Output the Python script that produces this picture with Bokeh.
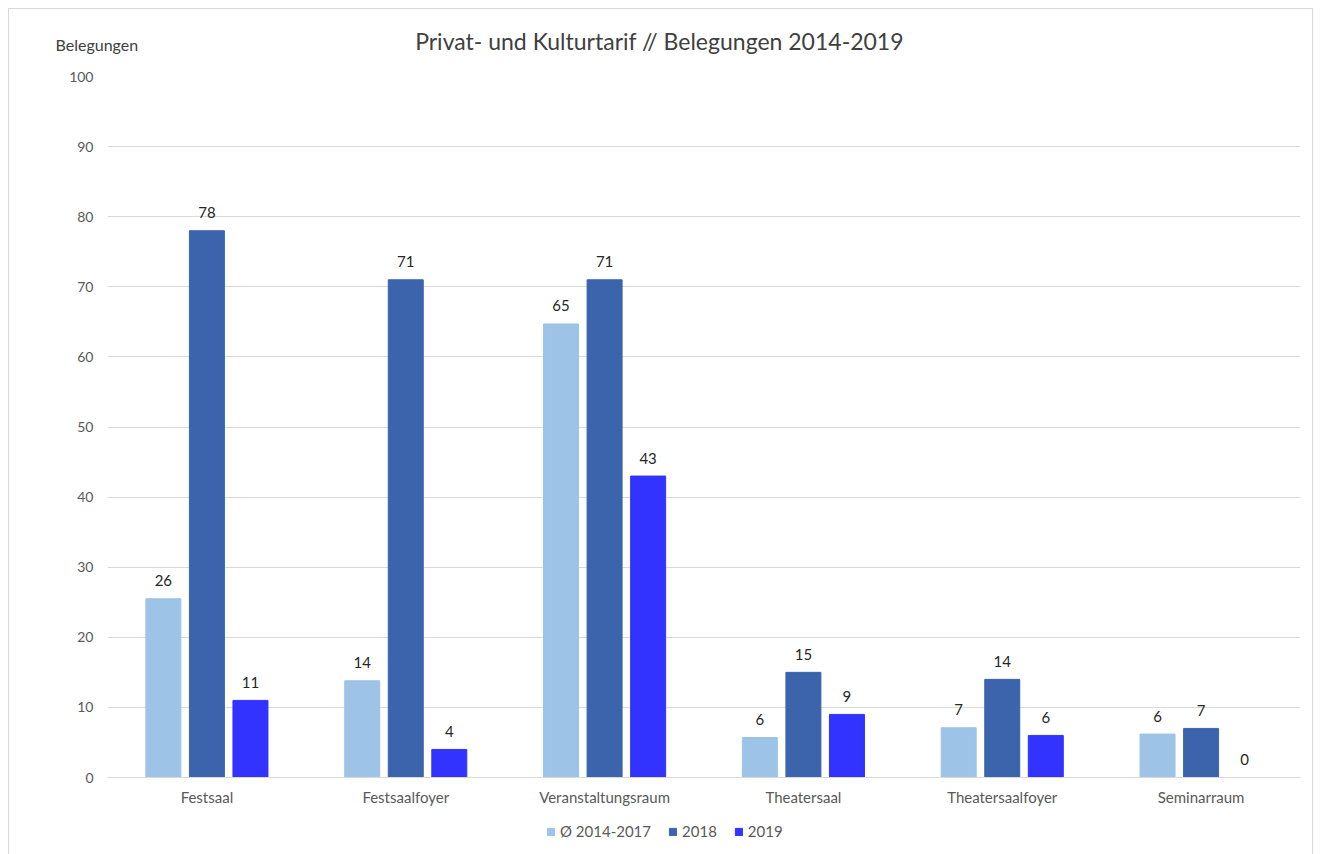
from bokeh.plotting import figure
from bokeh.layouts import column
from bokeh.models import (ColumnDataSource, FactorRange, Label, LabelSet, Legend, LegendItem,
                          Range1d, FixedTicker, Plot)
from bokeh.transform import dodge
from bokeh.core.properties import value
from bokeh.embed import file_html
from bokeh.resources import INLINE

categories = ["Festsaal", "Festsaalfoyer", "Veranstaltungsraum", "Theatersaal", "Theatersaalfoyer", "Seminarraum"]
avg_2014_2017 = [25.5, 13.8, 64.7, 5.7, 7.1, 6.2]
v_2018 = [78, 71, 71, 15, 14, 7]
v_2019 = [11, 4, 43, 9, 6, 0]
series_names = ["Ø 2014-2017", "2018", "2019"]
colors = ["#9DC3E6", "#3C64AD", "#3333FF"]
y_ticks = [0, 10, 20, 30, 40, 50, 60, 70, 80, 90, 100]
grid_ticks = [10, 20, 30, 40, 50, 60, 70, 80, 90]
title_text = "Privat- und Kulturtarif // Belegungen  2014-2019"
y_title = "Belegungen"

FONT = "Lato"
W = 1305

def lbl(vals):
    return [str(int(v + 0.5)) for v in vals]

src = ColumnDataSource(dict(
    cat=categories,
    a=avg_2014_2017, b=v_2018, c=v_2019,
    at=lbl(avg_2014_2017), bt=lbl(v_2018), ct=lbl(v_2019),
))

def bare(height):
    f = figure(width=W, height=height, x_range=Range1d(0, W), y_range=Range1d(0, height),
               output_backend="svg", toolbar_location=None, min_border=0,
               x_axis_type=None, y_axis_type=None)
    f.outline_line_color = None
    f.grid.visible = False
    f.background_fill_color = None
    f.border_fill_color = None
    if "frame_align" in Plot.properties():
        f.frame_align = False
    return f

# ---- header: title and y-axis title
HH = 58
head = bare(HH)
head.add_layout(Label(x=654, y=HH - 32, text=title_text, text_align="center", text_baseline="middle",
                      text_font=FONT, text_font_size="23px", text_color="#404040"))
head.add_layout(Label(x=47, y=HH - 36, text=y_title, text_align="left", text_baseline="middle",
                      text_font=FONT, text_font_size="16px", text_color="#404040"))

# ---- main chart
PH = 743
p = figure(x_range=FactorRange(*categories), y_range=Range1d(0, 100),
           width=W, height=PH, output_backend="svg", toolbar_location=None,
           min_border_left=99, min_border_right=13, min_border_top=10, min_border_bottom=32)
p.x_range.range_padding = 0
p.outline_line_color = None
p.background_fill_color = None
p.border_fill_color = None

off = 0.219
w = 0.176
r1 = p.vbar(x=dodge("cat", -off, range=p.x_range), top="a", width=w, source=src, color=colors[0])
r2 = p.vbar(x=dodge("cat", 0, range=p.x_range), top="b", width=w, source=src, color=colors[1])
r3 = p.vbar(x=dodge("cat", off, range=p.x_range), top="c", width=w, source=src, color=colors[2])

for o, f, t in [(-off, "a", "at"), (0, "b", "bt"), (off, "c", "ct")]:
    p.add_layout(LabelSet(x=dodge("cat", o, range=p.x_range), y=f, text=t, source=src,
                          text_align="center", text_baseline="middle", y_offset=18,
                          text_font=value(FONT), text_font_size="15px", text_color="#262626"))

p.yaxis.ticker = FixedTicker(ticks=y_ticks)
p.yaxis.axis_line_color = None
p.yaxis.major_tick_line_color = None
p.yaxis.minor_tick_line_color = None
p.yaxis.major_label_text_font = FONT
p.yaxis.major_label_text_font_size = "14px"
p.yaxis.major_label_text_color = "#595959"
p.yaxis.major_label_standoff = 8

p.xaxis.axis_line_color = "#d9d9d9"
p.xaxis.major_tick_line_color = None
p.xaxis.minor_tick_line_color = None
p.xaxis.major_label_text_font = FONT
p.xaxis.major_label_text_font_size = "15px"
p.xaxis.major_label_text_color = "#595959"
p.xaxis.major_label_standoff = 4

p.xgrid.grid_line_color = None
p.ygrid.ticker = FixedTicker(ticks=grid_ticks)
p.ygrid.grid_line_color = "#d9d9d9"

# ---- legend strip
LH = 854 - 8 - HH - PH
leg = bare(LH)
items = []
for name, col in zip(series_names, colors):
    dummy = ColumnDataSource(dict(x=[-1000], top=[0]))
    r = leg.vbar(x="x", top="top", width=1, source=dummy, color=col)
    items.append(LegendItem(label=name, renderers=[r]))
legend = Legend(items=items, orientation="horizontal", location=(538, 14),
                glyph_width=9, glyph_height=9, label_standoff=5, spacing=17,
                padding=0, margin=0, border_line_color=None, background_fill_alpha=0,
                label_text_font=FONT, label_text_font_size="15px", label_text_color="#595959",
                label_height=14)
leg.add_layout(legend, "center")

layout = column(head, p, leg, spacing=0)
layout.styles = {"margin": "8px 0 0 8px",
                 "box-shadow": "inset 1px 0 0 #d9d9d9, inset -1px 0 0 #d9d9d9, inset 0 1px 0 #d9d9d9"}

open("out.html", "w").write(file_html(layout, INLINE))
